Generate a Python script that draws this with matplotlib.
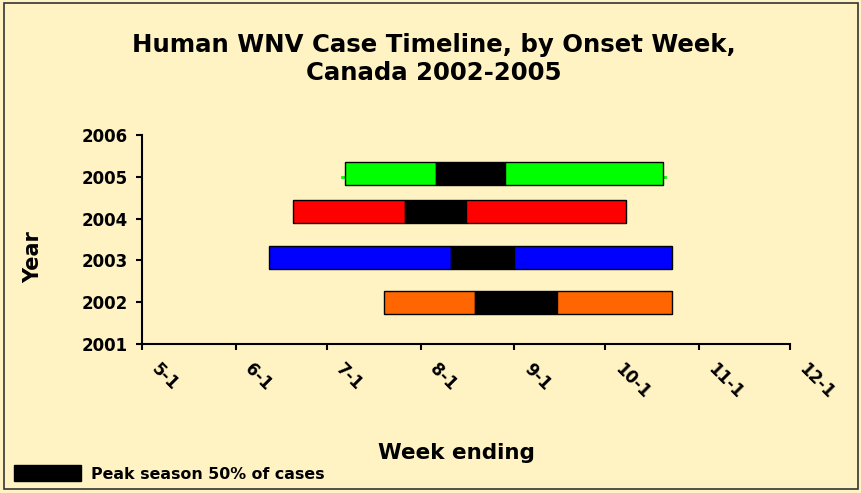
import matplotlib
matplotlib.use("Agg")
import matplotlib.pyplot as plt
import matplotlib.dates as mdates
import matplotlib.transforms as mtransforms
from matplotlib.patches import Rectangle
import pandas as pd

# ==================== DATA ====================
years = [2002, 2003, 2004, 2005]
bar_y = [2002.0, 2003.07, 2004.17, 2005.07]          # bars sit slightly above their year line
bar_colors = ["#FF6600", "#0000FF", "#FF0000", "#00FF00"]
season_start = ["07-20", "06-12", "06-20", "07-07"]   # first onset week
peak_start = ["08-19", "08-11", "07-27", "08-06"]     # peak 50% begins
peak_end = ["09-15", "09-01", "08-16", "08-29"]       # peak 50% ends
season_end = ["10-23", "10-23", "10-08", "10-20"]     # last onset week

tick_dates = ["05-01", "06-01", "07-01", "08-01", "09-01", "10-01", "11-01", "12-01"]
tick_labels = ["5-1", "6-1", "7-1", "8-1", "9-1", "10-1", "11-1", "12-1"]
year_ticks = [2001, 2002, 2003, 2004, 2005, 2006]

bg = "#FFF3C4"
font = "DejaVu Sans"


def to_num(md):
    return mdates.date2num(pd.Timestamp("2005-" + md))


# ==================== FIGURE ====================
fig = plt.figure(figsize=(8.62, 4.93), dpi=100, facecolor=bg)
ax = fig.add_axes([0.1647, 0.3022, 0.7518, 0.424])
ax.set_facecolor(bg)

h = 0.55
for i, yr in enumerate(years):
    s, ps, pe, e = (to_num(season_start[i]), to_num(peak_start[i]),
                    to_num(peak_end[i]), to_num(season_end[i]))
    y = bar_y[i]
    if yr == 2005:
        ax.plot([s - 0.8, e + 0.8], [yr, yr], color=bar_colors[i], lw=2, zorder=1)
    ax.barh(y, ps - s, left=s, height=h, color=bar_colors[i], edgecolor="black", lw=1, zorder=2)
    ax.barh(y, pe - ps, left=ps, height=h, color="black", edgecolor="black", lw=1, zorder=2)
    ax.barh(y, e - pe, left=pe, height=h, color=bar_colors[i], edgecolor="black", lw=1, zorder=2)

ax.set_xlim(to_num(tick_dates[0]), to_num(tick_dates[-1]))
ax.set_ylim(2001, 2006)
ax.set_yticks(year_ticks)
ax.set_yticklabels([str(y) for y in year_ticks], fontsize=12, fontweight="bold", family=font)
ax.set_xticks([to_num(d) for d in tick_dates])
ax.set_xticklabels([])

# rotated date labels, shifted down-right of their ticks
offset = mtransforms.ScaledTranslation(12 / 100, -22 / 100, fig.dpi_scale_trans)
for d, lab in zip(tick_dates, tick_labels):
    ax.text(to_num(d), 0, lab, transform=ax.get_xaxis_transform() + offset,
            rotation=-45, rotation_mode="anchor", ha="left", va="center",
            fontsize=12, fontweight="bold", family=font, clip_on=False)

for side in ["top", "right"]:
    ax.spines[side].set_visible(False)
for side in ["left", "bottom"]:
    ax.spines[side].set_linewidth(1.5)
ax.tick_params(axis="y", direction="out", length=4.5, width=1.5, pad=6)
ax.tick_params(axis="x", direction="out", length=4.5, width=1.5, pad=2)

# ==================== TEXT ====================
fig.text(0.503, 0.880, "Human WNV Case Timeline, by Onset Week,\nCanada 2002-2005",
         ha="center", va="center", fontsize=17.6, fontweight="bold", family=font,
         linespacing=1.2)
fig.text(0.038, 0.479, "Year", rotation=90, ha="center", va="center",
         fontsize=15, fontweight="bold", family=font)
fig.text(0.529, 0.081, "Week ending", ha="center", va="center",
         fontsize=15.5, fontweight="bold", family=font)

# legend
fig.patches.append(Rectangle((0.0162, 0.0243), 0.0777, 0.0325, transform=fig.transFigure,
                             facecolor="black", edgecolor="black"))
fig.text(0.1056, 0.0385, "Peak season 50% of cases", ha="left", va="center",
         fontsize=11.4, fontweight="bold", family=font)

# border
fig.patches.append(Rectangle((0.005, 0.008), 0.99, 0.985, transform=fig.transFigure,
                             fill=False, edgecolor="#333333", lw=1.2))

fig.savefig("out.png", dpi=100, facecolor=bg)
